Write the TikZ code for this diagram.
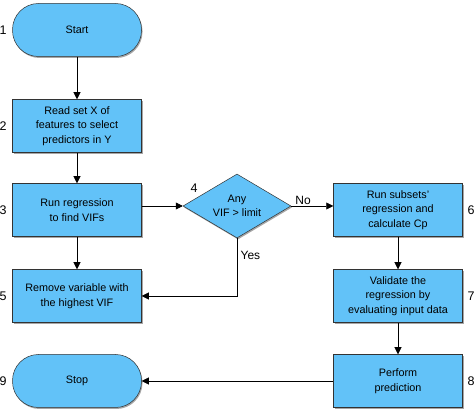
\documentclass[tikz,border=0pt]{standalone}
\usepackage{fontspec}
\setmainfont{Liberation Sans}
\usetikzlibrary{shapes.geometric,arrows.meta,shadows}

\definecolor{boxblue}{RGB}{98,194,248}

\begin{document}
\begin{tikzpicture}[x=1pt,y=-1pt,font=\fontsize{10.8}{14.5}\selectfont]
  \tikzstyle{stepbox}=[rectangle,draw=black!80,line width=0.5pt,fill=boxblue,
    minimum width=129pt,minimum height=53pt,inner sep=0pt,align=center,
    drop shadow={shadow xshift=1pt,shadow yshift=-1.5pt,opacity=0.7}]
  \tikzstyle{terminal}=[stepbox,rounded corners=26pt]
  \tikzstyle{decision}=[diamond,draw=black!80,line width=0.5pt,fill=boxblue,
    minimum width=108pt,minimum height=64pt,inner sep=0pt,aspect=1.7,align=center,
    drop shadow={shadow xshift=1pt,shadow yshift=-1.5pt,opacity=0.7}]
  \tikzstyle{flow}=[-{Triangle[length=7pt,width=7pt]},line width=0.6pt]
  \tikzstyle{num}=[font=\fontsize{12.5}{14}\selectfont]
  \tikzstyle{answer}=[font=\fontsize{12}{14}\selectfont]

  \useasboundingbox (0,0) rectangle (474,411);

  \node[terminal] (start) at (77,30) {Start};

  \node[stepbox] (read) at (77,126) {Read set X of\\features to select\\predictors in Y};

  \node[stepbox] (runreg) at (77,210) {Run regression\\to find VIFs};

  \node[decision] (vif) at (237,206) {Any\\VIF > limit};

  \node[stepbox] (remove) at (77,296) {Remove variable with\\the highest VIF};

  \node[terminal] (stop) at (77,381) {Stop};

  \node[stepbox] (subsets) at (398,210) {Run subsets'\\regression and\\calculate Cp};

  \node[stepbox] (validate) at (398,296) {Validate the\\regression by\\evaluating input data};

  \node[stepbox] (predict) at (398,381) {Perform\\prediction};

  \node[num] (n1) at (3,30) {1};
  \node[num] (n2) at (3,126) {2};
  \node[num] (n3) at (3,210) {3};
  \node[num] (n4) at (194,188) {4};
  \node[num] (n5) at (3,296) {5};
  \node[num] (n6) at (471,210) {6};
  \node[num] (n7) at (471,296) {7};
  \node[num] (n8) at (471,381) {8};
  \node[num] (n9) at (3,381) {9};

  \draw[flow] (start) -- (read);
  \draw[flow] (read) -- (runreg);
  \draw[flow] (runreg) -- (remove);
  \draw[flow] (runreg.east |- vif.west) -- (vif.west);
  \draw[flow] (vif.east) -- node[answer,above=-2pt,pos=0.28] {No} (subsets.west |- vif.east);
  \draw[flow] (vif.south) -- node[answer,right,pos=0.3] {Yes} (vif.south |- remove.east) -- (remove.east);
  \draw[flow] (subsets) -- (validate);
  \draw[flow] (validate) -- (predict);
  \draw[flow] (predict) -- (stop);

\end{tikzpicture}
\end{document}
